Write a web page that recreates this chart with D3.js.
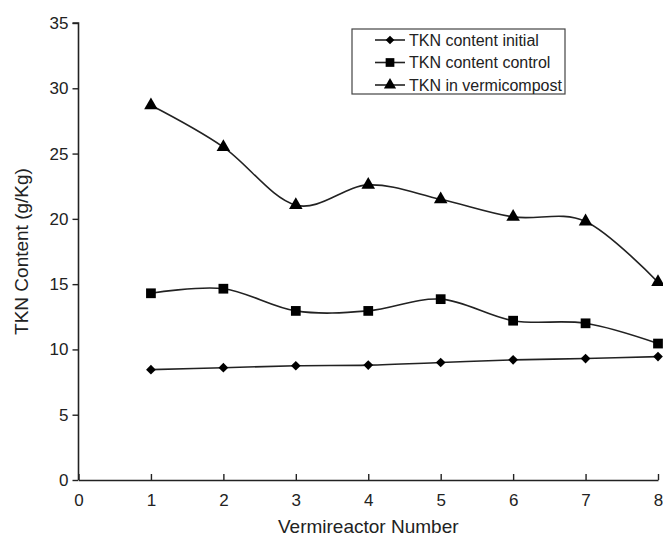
<!DOCTYPE html>
<html><head><meta charset="utf-8">
<script src="https://cdn.jsdelivr.net/npm/d3@7"></script>
<style>body{margin:0;background:#fff}svg{display:block}text{font-family:"Liberation Sans",Arial,sans-serif;fill:#222}</style>
</head><body><svg id="c" width="663" height="541"></svg>
<script>
const reactors = [1, 2, 3, 4, 5, 6, 7, 8];
const tknInitial = [8.45, 8.6, 8.75, 8.8, 9.0, 9.2, 9.3, 9.45];
const tknControl = [14.3, 14.65, 12.95, 12.95, 13.85, 12.2, 12.0, 10.45];
const tknVermi = [28.7, 25.5, 21.05, 22.6, 21.5, 20.15, 19.8, 15.15];
const seriesNames = ["TKN content initial", "TKN content control", "TKN in vermicompost"];
const xTicks = [0, 1, 2, 3, 4, 5, 6, 7, 8];
const yTicks = [0, 5, 10, 15, 20, 25, 30, 35];

const svg = d3.select("#c");
const x = d3.scaleLinear().domain([0, 8]).range([78.5, 658]);
const y = d3.scaleLinear().domain([0, 35]).range([480, 23]);
const ink = "#222";

// axes
const gy = svg.append("g").attr("transform", `translate(${x(0)},0)`)
  .call(d3.axisLeft(y).tickValues(yTicks).tickSize(6).tickPadding(4).tickFormat(d3.format("d")));
const gx = svg.append("g").attr("transform", `translate(0,${y(0)})`)
  .call(d3.axisBottom(x).tickValues(xTicks).tickSizeInner(-6).tickSizeOuter(0).tickPadding(14).tickFormat(d3.format("d")));
[gy, gx].forEach(g => {
  g.select(".domain").attr("stroke", ink).attr("stroke-width", 1.6);
  g.selectAll(".tick line").attr("stroke", ink).attr("stroke-width", 1.4);
  g.selectAll(".tick text").style("font-size", "17px").attr("fill", ink);
});
gy.select(".domain").attr("d", `M-6,${y(35)}H0V${y(0)}`);

svg.append("text").attr("x", (x(0) + x(8)) / 2).attr("y", 533).attr("text-anchor", "middle")
  .style("font-size", "19px").text("Vermireactor Number");
svg.append("text").attr("transform", `translate(28,${(y(0) + y(35)) / 2}) rotate(-90)`)
  .attr("text-anchor", "middle").style("font-size", "19px").text("TKN Content (g/Kg)");

const line = d3.line().x((d, i) => x(reactors[i])).y(d => y(d)).curve(d3.curveCardinal.tension(0));
const symbols = [d3.symbolDiamond2, d3.symbolSquare, d3.symbolTriangle];
const sizes = [60, 95, 80];
const data = [tknInitial, tknControl, tknVermi];

data.forEach((vals, k) => {
  svg.append("path").attr("d", line(vals)).attr("fill", "none").attr("stroke", ink).attr("stroke-width", 1.6);
  svg.selectAll(null).data(vals).enter().append("path")
    .attr("transform", (d, i) => `translate(${x(reactors[i])},${y(d)})`)
    .attr("d", d3.symbol().type(symbols[k]).size(sizes[k])).attr("fill", "#000");
});

// legend
const lg = svg.append("g");
lg.append("rect").attr("x", 352).attr("y", 29).attr("width", 213).attr("height", 65)
  .attr("fill", "#fff").attr("stroke", "#444").attr("stroke-width", 1.2);
seriesNames.forEach((n, k) => {
  const yy = 40 + k * 22.5;
  lg.append("line").attr("x1", 375).attr("x2", 405).attr("y1", yy).attr("y2", yy).attr("stroke", ink).attr("stroke-width", 1.6);
  lg.append("path").attr("transform", `translate(390,${yy})`).attr("d", d3.symbol().type(symbols[k]).size(sizes[k] * 0.8)).attr("fill", "#000");
  lg.append("text").attr("x", 409).attr("y", yy + 5.5).style("font-size", "16px").text(n);
});
</script></body></html>
